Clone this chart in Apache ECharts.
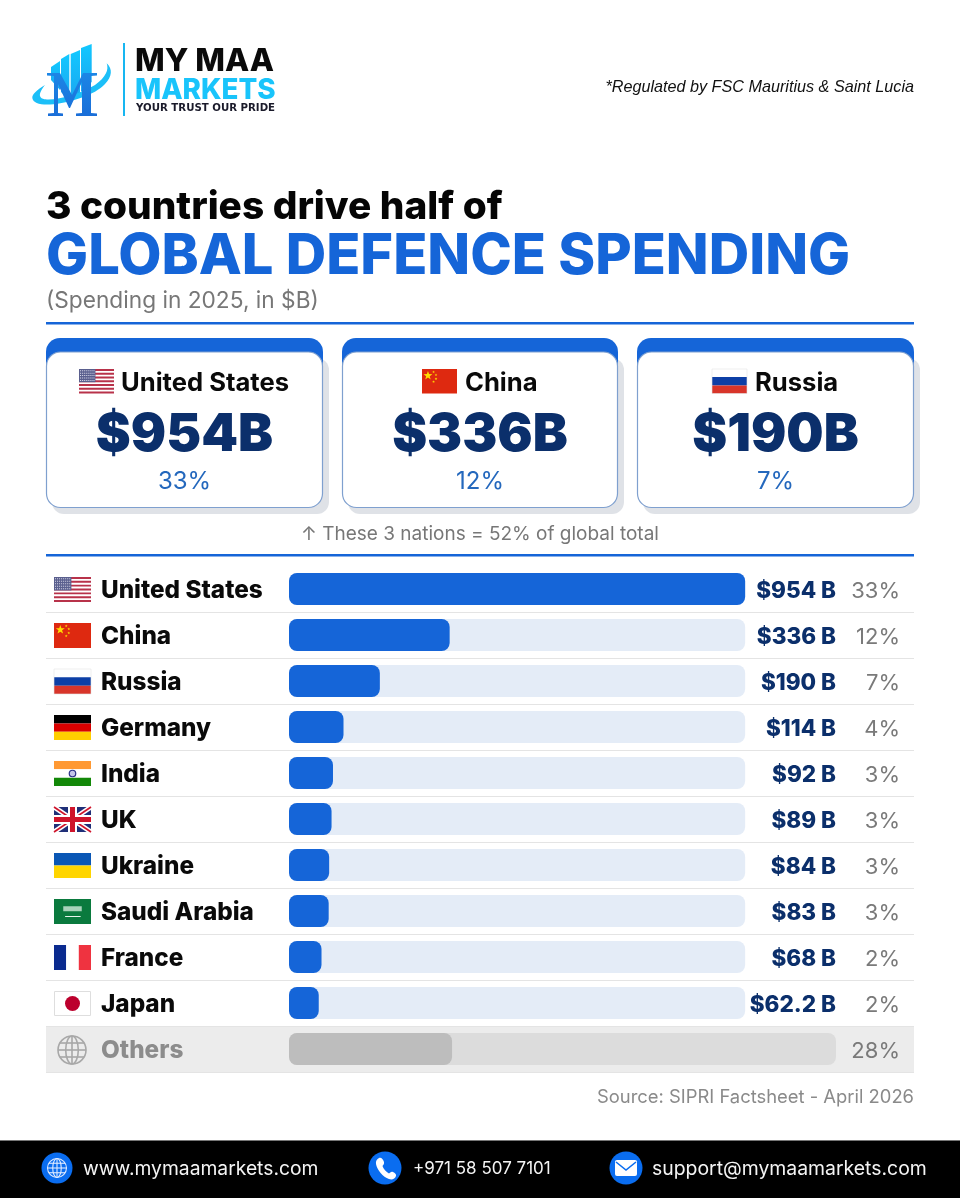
<!DOCTYPE html>
<html><head><meta charset="utf-8">
<style>html,body{margin:0;padding:0;background:#fff}#c{width:960px;height:1200px}</style>
<script src="https://cdn.jsdelivr.net/npm/echarts@6/dist/echarts.min.js"></script>
</head><body><div id="c"></div>
<script>
const countries=['United States','China','Russia','Germany','India','UK','Ukraine','Saudi Arabia','France','Japan','Others'];
const spending=[954,336,190,114,92,89,84,83,68,62.2,341];
const trackLengths=[954,954,954,954,954,954,954,954,954,954,1144];
const valueLabels=['$954 B','$336 B','$190 B','$114 B','$92 B','$89 B','$84 B','$83 B','$68 B','$62.2 B',''];
const shareLabels=['33%','12%','7%','4%','3%','3%','3%','3%','2%','2%','28%'];
const cardNames=['United States','China','Russia'];
const cardValues=['$954B','$336B','$190B'];
const cardShares=['33%','12%','7%'];

const BLUE='#1565d8',NAVY='#0b2f6b',G=[];
const INTER='Inter, "Noto Sans", sans-serif';
let pathId=0;
function T(text,x,y,size,weight,fill,align,family,extra){G.push({type:'text',silent:true,z:5,style:Object.assign({text,x,y,fontSize:size,fontWeight:weight,fontFamily:family||INTER,fill,textAlign:align||'left',textVerticalAlign:'middle'},extra||{})});}
function R(x,y,w,h,fill,r,z,stroke,lw){G.push({type:'rect',silent:true,z:z==null?5:z,shape:{x,y,width:w,height:h,r:r||0},style:{fill,stroke:stroke||null,lineWidth:lw||0}});}
function C(cx,cy,r,fill,stroke,lw,z){G.push({type:'circle',silent:true,z:z||5,shape:{cx,cy,r},style:{fill,stroke:stroke||null,lineWidth:lw||0}});}
function L(x1,y1,x2,y2,stroke,lw,z){G.push({type:'line',silent:true,z:z||5,shape:{x1,y1,x2,y2},style:{stroke,lineWidth:lw,lineCap:'butt'}});}
function P(d,fill,stroke,lw,z){const name='p'+(pathId++);echarts.graphic.registerShape(name,echarts.graphic.extendPath(d,{}));G.push({type:name,silent:true,z:z||5,style:{fill:fill||null,stroke:stroke||null,lineWidth:lw||0}});}
function PG(points,fill,z){G.push({type:'polygon',silent:true,z:z||5,shape:{points},style:{fill}});}
function star(cx,cy,r,fill){const pts=[];for(let i=0;i<10;i++){const a=-Math.PI/2+i*Math.PI/5,q=i%2?r*.4:r;pts.push([cx+q*Math.cos(a),cy+q*Math.sin(a)]);}PG(pts,fill,6);}
function flag(name,x,y,w,h){
  const s=(f,t,c)=>R(x,y+h*f,w,h*(t-f),c);
  const v=(f,t,c)=>R(x+w*f,y,w*(t-f),h,c);
  if(name==='United States'){s(0,1,'#fff');for(let i=0;i<7;i++)R(x,y+h*i*2/13,w,h/13,'#b8324a');R(x,y,w*.47,h*7/13,'#5a5f8e');
    for(let r=0;r<5;r++)for(let c=0;c<8;c++)R(x+1+c*w*.055,y+1.2+r*h*.1,1,1,'#d8d8e8');}
  else if(name==='China'){s(0,1,'#de2910');star(x+w*.17,y+h*.27,h*.19,'#ffde00');[[.33,.12],[.4,.24],[.4,.4],[.33,.52]].forEach(p=>star(x+w*p[0],y+h*p[1],h*.06,'#ffde00'));}
  else if(name==='Russia'){s(0,.33,'#fff');s(.33,.67,'#0d3fa6');s(.67,1,'#d8352a');G.push({type:'rect',silent:true,z:6,shape:{x,y,width:w,height:h},style:{fill:null,stroke:'#e4e4e4',lineWidth:.6}});}
  else if(name==='Germany'){s(0,.34,'#000');s(.34,.67,'#d90000');s(.67,1,'#ffce00');}
  else if(name==='India'){s(0,.33,'#ff9933');s(.33,.67,'#fff');s(.67,1,'#138808');C(x+w/2,y+h/2,h*.13,'#c5c5e8','#2a2f88',1.2);}
  else if(name==='UK'){s(0,1,'#1f2f78');
    L(x,y,x+w,y+h,'#fff',5,6);L(x+w,y,x,y+h,'#fff',5,6);L(x,y,x+w,y+h,'#cf142b',1.6,6);L(x+w,y,x,y+h,'#cf142b',1.6,6);
    G.push({type:'rect',silent:true,z:6,shape:{x:x+w/2-4.5,y,width:9,height:h},style:{fill:'#fff'}});
    G.push({type:'rect',silent:true,z:6,shape:{x,y:y+h/2-4.5,width:w,height:9},style:{fill:'#fff'}});
    G.push({type:'rect',silent:true,z:7,shape:{x:x+w/2-2.5,y,width:5,height:h},style:{fill:'#cf142b'}});
    G.push({type:'rect',silent:true,z:7,shape:{x,y:y+h/2-2.5,width:w,height:5},style:{fill:'#cf142b'}});}
  else if(name==='Ukraine'){s(0,.5,'#0a57b5');s(.5,1,'#ffd500');}
  else if(name==='Saudi Arabia'){s(0,1,'#0a7a3e');R(x+w*.25,y+h*.29,w*.5,h*.2,'#a9d3bb');L(x+w*.3,y+h*.7,x+w*.72,y+h*.7,'#e8f4ec',1);}
  else if(name==='France'){v(0,.33,'#0a2a8f');v(.33,.67,'#fff');v(.67,1,'#ef3340');}
  else if(name==='Japan'){G.push({type:'rect',silent:true,z:5,shape:{x:x+.5,y:y+.5,width:w-1,height:h-1},style:{fill:'#fff',stroke:'#dedede',lineWidth:1}});C(x+w/2,y+h/2,h*.3,'#bc002d');}
}
function globe(cx,cy,r,stroke,lw,z){C(cx,cy,r,null,stroke,lw,z);
  G.push({type:'ellipse',silent:true,z:z||6,shape:{cx,cy,rx:r*.45,ry:r},style:{fill:null,stroke,lineWidth:lw}});
  L(cx,cy-r,cx,cy+r,stroke,lw,z||6);L(cx-r,cy,cx+r,cy,stroke,lw,z||6);
  L(cx-r*.87,cy-r*.5,cx+r*.87,cy-r*.5,stroke,lw,z||6);L(cx-r*.87,cy+r*.5,cx+r*.87,cy+r*.5,stroke,lw,z||6);}

// ---- logo
const barGrad={type:'linear',x:0,y:0,x2:0,y2:1,colorStops:[{offset:0,color:'#12c8ff'},{offset:1,color:'#1ba6f0'}]};
PG([[51,67],[60,61],[60,90],[51,80]],barGrad,4);
PG([[61,59],[69.300,54],[69.300,100],[61,92]],barGrad,4);
PG([[70.700,54],[80,50],[80,96],[70.700,100]],barGrad,4);
PG([[81,48],[91.700,44],[91.700,82],[81,92]],barGrad,4);
P('M45 85 C37 90 32 94 32.300 98 C33 103 40 105 50 104.500 C70 103 95 95 105 84 C112 77 113 69 106.700 63.300 C109 70 106 77 95 85 C82 93 60 100 47 99.500 C39 99 37 95 45 85Z','#1cbff8',null,0,5);
const mGrad={type:'linear',x:0,y:0,x2:0,y2:1,colorStops:[{offset:0,color:'#1c86e6'},{offset:1,color:'#1a6ed8'}]};
PG([[47,73],[60,73],[72,95],[83,73],[97,73],[97,75.500],[91,76],[91,113],[97,113.500],[97,116],[76,116],[76,113.500],[82,113],[82,82],[70,108],[69,108],[58,84],[58,113],[63,113.500],[63,116],[48,116],[48,113.500],[54,113],[54,76],[47,75.500]],mGrad,6);
L(124,43,124,116,'#17b6f1',2);
T('MY MAA',135,62,31.5,'800','#0a0a0a');
T('MARKETS',135,91,27.8,'800','#19c4fb');
T('YOUR TRUST OUR PRIDE',136,108,10.2,'700','#1a1a2a','left','"DejaVu Sans", sans-serif');
T('*Regulated by FSC Mauritius & Saint Lucia',914,87.500,16.2,'400','#111','right','"Liberation Sans", sans-serif',{fontStyle:'italic'});

// ---- titles
T('3 countries drive half of',46,207,38.8,'800','#050505');
T('GLOBAL DEFENCE SPENDING',46,257,56,'800',BLUE);
T('(Spending in 2025, in $B)',46,301.500,22.7,'400','#777');
R(46,322,868,2.5,BLUE);

// ---- cards
const cardX=[46,342,637],cardW=[277,276,277];
cardNames.forEach((n,i)=>{const x=cardX[i],w=cardW[i];
  R(x+6,358,w,156,'#dfe2e7',12,1);
  R(x,338,w,60,BLUE,14,2);
  R(x+.5,352,w-1,155.5,'#fff',14,3,'#7fa0cf',1.2);
});
const flagW=35;
[[79,121],[422,465],[712,755]].forEach((p,i)=>{flag(cardNames[i],p[0],369,flagW,24.5);T(cardNames[i],p[1],383,25.6,'700','#0a0a0a');});
cardValues.forEach((v,i)=>{const cx=cardX[i]+cardW[i]/2;T(v,cx,435.500,52.5,'900',NAVY,'center');T(cardShares[i],cx,482,24,'400','#2468bd','center');});
T('↑ These 3 nations = 52% of global total',480,534,19,'400','#777','center');
R(46,554,868,2.5,BLUE);

// ---- table decoration
R(46,1027,868,45.5,'#ececec',0,0);
for(let i=1;i<=11;i++)L(46,566+46*i+.5,914,566+46*i+.5,'#e4e4e4',1.2,1);
countries.slice(0,10).forEach((n,i)=>flag(n,54,577+46*i,37,25));
globe(72,1050,14,'#a8a8a8',1.6);
T('Source: SIPRI Factsheet - April 2026',914,1097,18.4,'400','#8a8a8a','right');

// ---- footer
R(0,1140,960,58,'#000',0,4);L(0,1140.5,960,1140.5,'#777',1,5);
C(57,1168,15.5,'#0a6df0');globe(57,1168,9.5,'#dfeaff',1.1,6);
C(385,1168,16.5,'#0a6df0');
P('M379 1158 C381 1157 383 1159 384 1162 C384.500 1164 383 1165 382.500 1166 C383.500 1169 386 1172 389 1173.500 C390 1173 391 1171 393 1172 C395 1173 396.500 1174 396 1176 C395 1179 392 1180 389 1179 C383 1177 377 1170 376 1164 C375.500 1161 377 1159 379 1158Z','#fff',null,0,6);
C(626,1168,16.5,'#0a6df0');
R(615,1160,22,16,'#fff',2,6);
P('M616 1162 L626 1170 L636 1162','none','#0a6df0',1.6,7);
T('www.mymaamarkets.com',83,1169,19.3,'400','#f4f4f4');
T('+971 58 507 7101',413,1169,17,'400','#f4f4f4');
T('support@mymaamarkets.com',652,1169,19.4,'400','#f4f4f4');

const isOther=i=>i===countries.length-1;
const axisBase={type:'category',data:countries,inverse:true,axisLine:{show:false},axisTick:{show:false},splitLine:{show:false}};
const chart=echarts.init(document.getElementById('c'),null,{renderer:'canvas',width:960,height:1200});
chart.setOption({
  animation:false,backgroundColor:'#fff',
  grid:[
    {left:289,top:566,width:547,height:506},
    {left:289,top:568,width:547,height:506}
  ],
  xAxis:[
    {type:'value',gridIndex:0,min:0,max:1144,show:false},
    {type:'value',gridIndex:1,min:0,max:1144,show:false}
  ],
  yAxis:[
    Object.assign({},axisBase,{gridIndex:0,position:'left',axisLabel:{show:false}}),
    Object.assign({},axisBase,{gridIndex:1,position:'left',axisLabel:{interval:0,align:'left',margin:188,fontFamily:INTER,fontSize:24.3,fontWeight:800,
      color:(v,i)=>isOther(i)?'#8c8c8c':'#0a0a0a'}}),
    Object.assign({},axisBase,{gridIndex:1,position:'right',offset:0,axisLabel:{interval:0,align:'right',margin:0,fontFamily:INTER,fontSize:22.5,fontWeight:800,color:NAVY,
      formatter:(v,i)=>valueLabels[i]}}),
    Object.assign({},axisBase,{gridIndex:1,position:'right',offset:64,axisLabel:{interval:0,align:'right',margin:0,fontFamily:INTER,fontSize:22,fontWeight:400,
      color:'#7a7a7a',formatter:(v,i)=>shareLabels[i]}})
  ],
  series:[
    {type:'bar',xAxisIndex:0,yAxisIndex:0,barWidth:32,barGap:'-100%',z:2,silent:true,
     data:trackLengths.map((v,i)=>({value:v,itemStyle:{color:isOther(i)?'#dcdcdc':'#e4ecf7',borderRadius:8}}))},
    {type:'bar',xAxisIndex:0,yAxisIndex:0,barWidth:32,barGap:'-100%',z:3,silent:true,
     data:spending.map((v,i)=>({value:v,itemStyle:{color:isOther(i)?'#bdbdbd':BLUE,borderRadius:8}}))}
  ],
  graphic:{elements:G}
});
</script></body></html>
